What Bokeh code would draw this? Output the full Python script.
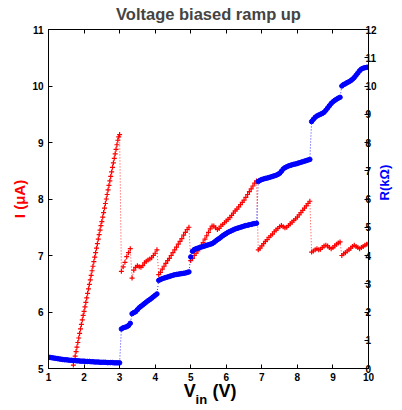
import numpy as np
from bokeh.plotting import figure
from bokeh.models import Range1d, LinearAxis, FixedTicker
from bokeh.embed import file_html
from bokeh.resources import INLINE

TITLE = "Voltage biased ramp up"
X_TICKS = [1, 2, 3, 4, 5, 6, 7, 8, 9, 10]
I_TICKS = [5, 6, 7, 8, 9, 10, 11]
R_TICKS = [0, 1, 2, 3, 4, 5, 6, 7, 8, 9, 10, 11, 12]
I_LABEL = "I (\u03bcA)"
R_LABEL = "R(k\u03a9)"
X_LABEL_MAIN = "V"
X_LABEL_SUB = "in"
X_LABEL_UNIT = "(V)"

# Input voltage grids (V)
RED_V = np.round(np.concatenate([np.arange(1.70, 3.0001, 0.025),
                                 np.arange(3.05, 10.0001, 0.05)]), 3)
BLUE_V = np.round(np.arange(1.00, 10.0001, 0.05), 2)

# Current I (uA)
RED_I = [
    # 1.700 .. 3.000 (step 0.025)
    5.06, 5.14, 5.22, 5.30, 5.38, 5.46, 5.54, 5.62, 5.70, 5.78, 5.86, 5.94, 6.01,
    6.09, 6.17, 6.25, 6.33, 6.41, 6.49, 6.57, 6.65, 6.73, 6.81, 6.89, 6.97, 7.05,
    7.13, 7.21, 7.29, 7.37, 7.45, 7.53, 7.60, 7.68, 7.76, 7.84, 7.92, 8.00, 8.08,
    8.16, 8.24, 8.32, 8.40, 8.48, 8.56, 8.64, 8.72, 8.80, 8.88, 8.96, 9.04, 9.10, 9.14,
    # 3.05 .. 3.30
    6.72, 6.80, 6.88, 6.98, 7.05, 7.12,
    # 3.35 .. 4.05
    6.60, 6.74, 6.79, 6.82, 6.80, 6.79, 6.82, 6.87, 6.90, 6.92, 6.94, 6.96, 7.00, 7.04, 7.10,
    # 4.10 .. 4.95
    6.66, 6.70, 6.76, 6.81, 6.86, 6.91, 6.95, 7.00, 7.05, 7.10, 7.15, 7.20, 7.25, 7.30,
    7.36, 7.41, 7.46, 7.50,
    # 5.00 .. 6.85
    6.91, 6.95, 7.00, 7.04, 7.08, 7.13, 7.18, 7.23, 7.29, 7.35, 7.41, 7.47, 7.52, 7.52,
    7.49, 7.46, 7.48, 7.52, 7.55, 7.58, 7.61, 7.64, 7.67, 7.71, 7.75, 7.79, 7.82, 7.86,
    7.90, 7.94, 7.98, 8.03, 8.08, 8.13, 8.18, 8.23, 8.28, 8.32,
    # 6.90 .. 8.35
    7.10, 7.13, 7.17, 7.21, 7.25, 7.28, 7.32, 7.35, 7.38, 7.42, 7.45, 7.48, 7.51, 7.53,
    7.51, 7.49, 7.50, 7.53, 7.56, 7.59, 7.62, 7.65, 7.68, 7.72, 7.76, 7.80, 7.84, 7.88,
    7.92, 7.96,
    # 8.40 .. 9.20
    7.06, 7.08, 7.10, 7.12, 7.10, 7.11, 7.14, 7.17, 7.18, 7.17, 7.14, 7.12, 7.14, 7.17,
    7.20, 7.22, 7.24,
    # 9.25 .. 10.00
    7.00, 7.03, 7.05, 7.08, 7.10, 7.13, 7.16, 7.18, 7.16, 7.14, 7.12, 7.14, 7.16, 7.18,
    7.20, 7.22,
]

# Resistance R (kOhm)
BLUE_R = [
    # 1.00 .. 3.00
    0.40, 0.39, 0.38, 0.37, 0.36, 0.35, 0.34, 0.33, 0.32, 0.31, 0.31, 0.30, 0.29, 0.29,
    0.28, 0.28, 0.27, 0.27, 0.26, 0.26, 0.26, 0.25, 0.25, 0.25, 0.24, 0.24, 0.23, 0.23,
    0.23, 0.22, 0.22, 0.22, 0.22, 0.21, 0.21, 0.21, 0.21, 0.20, 0.20, 0.20, 0.20,
    # 3.05 .. 3.30
    1.40, 1.44, 1.46, 1.48, 1.52, 1.60,
    # 3.35 .. 4.05
    1.94, 1.98, 2.01, 2.08, 2.15, 2.20, 2.25, 2.30, 2.35, 2.40, 2.44, 2.49, 2.54, 2.59, 2.64,
    # 4.10 .. 4.95
    3.12, 3.15, 3.18, 3.20, 3.22, 3.24, 3.26, 3.28, 3.30, 3.32, 3.33, 3.34, 3.35, 3.36,
    3.37, 3.38, 3.40, 3.42,
    # 5.00 .. 6.85
    3.95, 4.15, 4.21, 4.24, 4.26, 4.28, 4.30, 4.32, 4.34, 4.36, 4.38, 4.40, 4.42, 4.46,
    4.51, 4.56, 4.60, 4.65, 4.70, 4.74, 4.78, 4.82, 4.85, 4.88, 4.91, 4.94, 4.96, 4.98,
    5.00, 5.02, 5.04, 5.06, 5.07, 5.09, 5.10, 5.12, 5.13, 5.14,
    # 6.90 .. 8.35
    6.62, 6.66, 6.69, 6.71, 6.73, 6.74, 6.76, 6.78, 6.80, 6.82, 6.84, 6.87, 6.91, 6.98,
    7.06, 7.11, 7.14, 7.17, 7.19, 7.21, 7.23, 7.24, 7.26, 7.28, 7.30, 7.32, 7.34, 7.36,
    7.38, 7.40,
    # 8.40 .. 9.20
    8.74, 8.82, 8.89, 8.94, 8.97, 9.00, 9.03, 9.07, 9.14, 9.22, 9.30, 9.38, 9.44, 9.49,
    9.53, 9.57, 9.60,
    # 9.25 .. 10.00
    10.00, 10.05, 10.08, 10.12, 10.15, 10.19, 10.24, 10.30, 10.38, 10.46, 10.54, 10.60,
    10.63, 10.65, 10.66, 10.67,
]

assert len(RED_V) == len(RED_I), (len(RED_V), len(RED_I))
assert len(BLUE_V) == len(BLUE_R), (len(BLUE_V), len(BLUE_R))

FONT = "Liberation Sans"
RED = "#ff0000"
BLUE = "#0000ff"

p = figure(width=402, height=410, output_backend="svg", toolbar_location=None,
           x_range=Range1d(1, 10), y_range=Range1d(5, 11),
           min_border_left=48, min_border_right=32, min_border_top=29, min_border_bottom=42,
           background_fill_color="white", border_fill_color="white")
p.extra_y_ranges = {"R": Range1d(0, 12)}

p.title.text = TITLE
p.title.align = "center"
p.title.vertical_align = "top"
p.title.text_font = FONT
p.title.text_font_size = "16.5px"
p.title.text_font_style = "bold"
p.title.standoff = 9
p.title.offset = 0

p.xgrid.visible = False
p.ygrid.visible = False
p.outline_line_color = "black"
p.outline_line_width = 1


def style_axis(ax, standoff):
    ax.major_tick_in = 4
    ax.major_tick_out = 0
    ax.minor_tick_in = 0
    ax.minor_tick_out = 0
    ax.axis_line_color = "black"
    ax.major_tick_line_color = "black"
    ax.major_label_text_font = FONT
    ax.major_label_text_font_size = "10px"
    ax.major_label_text_font_style = "bold"
    ax.major_label_text_color = "black"
    ax.major_label_standoff = standoff


def hide_labels(ax):
    ax.major_label_text_font_size = "1px"
    ax.major_label_text_alpha = 0
    ax.major_label_standoff = 0


def text_axis(ax, standoff, size, color):
    # an axis used only to carry text (no line, no ticks)
    ax.major_tick_line_color = None
    ax.minor_tick_line_color = None
    ax.axis_line_color = None
    ax.major_tick_in = 0
    ax.major_tick_out = 0
    ax.minor_tick_in = 0
    ax.minor_tick_out = 0
    ax.major_label_text_font = FONT
    ax.major_label_text_font_size = size
    ax.major_label_text_font_style = "bold"
    ax.major_label_text_color = color
    ax.major_label_standoff = standoff


style_axis(p.xaxis[0], 4)
p.xaxis[0].ticker = FixedTicker(ticks=X_TICKS)

style_axis(p.yaxis[0], 5)
p.yaxis[0].ticker = FixedTicker(ticks=I_TICKS)
p.yaxis[0].axis_label = I_LABEL
p.yaxis[0].axis_label_text_font = FONT
p.yaxis[0].axis_label_text_font_size = "15px"
p.yaxis[0].axis_label_text_font_style = "bold"
p.yaxis[0].axis_label_text_color = RED
p.yaxis[0].axis_label_standoff = 1

# right side: R ticks on the frame, then the axis title, then the tick numbers
r_tick_axis = LinearAxis(y_range_name="R", ticker=FixedTicker(ticks=R_TICKS))
style_axis(r_tick_axis, 0)
hide_labels(r_tick_axis)
p.add_layout(r_tick_axis, "right")

r_lab_pos = 5.95
r_label_axis = LinearAxis(y_range_name="R", ticker=FixedTicker(ticks=[r_lab_pos]),
                          major_label_overrides={r_lab_pos: R_LABEL})
text_axis(r_label_axis, 16, "13px", BLUE)
r_label_axis.major_label_orientation = np.pi / 2
p.add_layout(r_label_axis, "right")

r_num_axis = LinearAxis(y_range_name="R", ticker=FixedTicker(ticks=R_TICKS))
text_axis(r_num_axis, -37, "10px", "black")
p.add_layout(r_num_axis, "right")

top_axis = LinearAxis(ticker=FixedTicker(ticks=X_TICKS))
style_axis(top_axis, 0)
hide_labels(top_axis)
p.add_layout(top_axis, "above")

# x-axis title "V_in (V)" built from two text-only axes
v_pos, unit_pos, sub_pos = 4.97, 5.95, 5.30
x_lab_axis = LinearAxis(ticker=FixedTicker(ticks=[v_pos, unit_pos]),
                        major_label_overrides={v_pos: X_LABEL_MAIN, unit_pos: X_LABEL_UNIT})
text_axis(x_lab_axis, -3, "18px", "black")
p.add_layout(x_lab_axis, "below")

x_sub_axis = LinearAxis(ticker=FixedTicker(ticks=[sub_pos]),
                        major_label_overrides={sub_pos: X_LABEL_SUB})
text_axis(x_sub_axis, -12, "13px", "black")
p.add_layout(x_sub_axis, "below")

# Red series: current
p.line(RED_V, RED_I, line_color=RED, line_width=0.8, line_dash="1 2")
p.scatter(RED_V, RED_I, marker="cross", size=5, line_color=RED, line_width=1.2)

# Blue series: resistance
p.line(BLUE_V, BLUE_R, y_range_name="R", line_color=BLUE, line_width=0.8, line_dash="1 2")
p.scatter(BLUE_V, BLUE_R, y_range_name="R", marker="circle", size=4.5,
          fill_color=BLUE, line_color=BLUE)

open("out.html", "w").write(file_html(p, INLINE))
